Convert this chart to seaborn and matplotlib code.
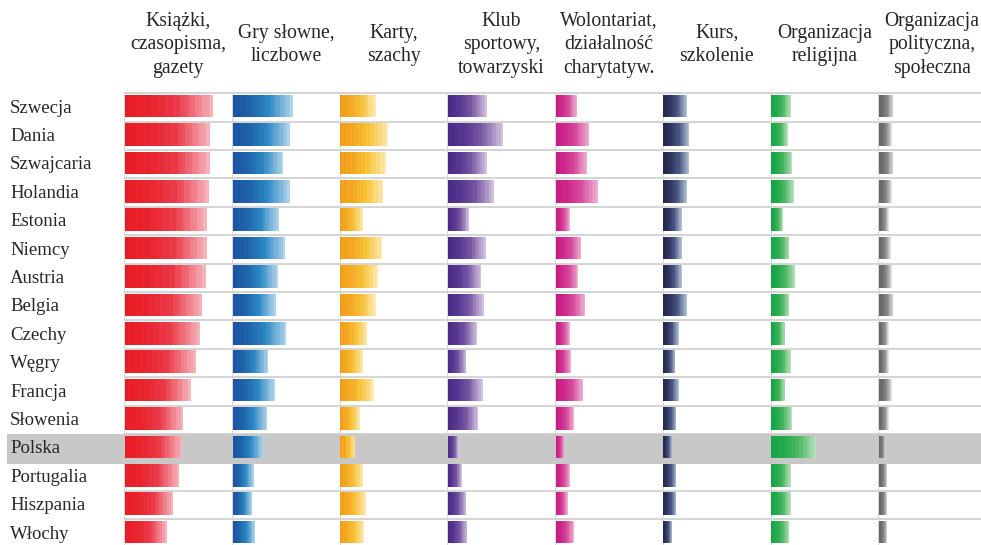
import numpy as np
import pandas as pd
import matplotlib
matplotlib.use("Agg")
import matplotlib.pyplot as plt
import matplotlib.colors as mcolors
from matplotlib.patches import Rectangle
from matplotlib.transforms import blended_transform_factory
import seaborn as sns

# dane (odsetek, skala 0-100 na panel)
kraje = ["Szwecja", "Dania", "Szwajcaria", "Holandia", "Estonia", "Niemcy",
         "Austria", "Belgia", "Czechy", "Węgry", "Francja", "Słowenia",
         "Polska", "Portugalia", "Hiszpania", "Włochy"]
ksiazki = [82, 79, 79, 78, 76, 76, 75, 72, 70, 66, 61, 54, 53, 50, 45, 39]
gry = [56, 53, 47, 53, 43, 49, 42, 40, 50, 33, 39, 32, 28, 19.5, 18, 21]
karty = [33, 44, 42, 40, 21, 39, 35, 33, 25, 21, 31, 18, 14, 21, 23.5, 22]
klub = [36, 51, 36, 43, 19.5, 35, 31, 33, 27, 17, 32, 28, 10, 13, 17, 18]
wolontariat = [19.5, 31, 29, 39, 13, 23.5, 21, 27, 13, 14, 25, 17, 8, 13, 11, 17]
kurs = [22, 24, 24, 22, 17, 17, 17, 22, 14, 11, 14, 12, 8, 12, 12, 8]
religijna = [18, 15.5, 19.5, 21, 11, 17, 22, 17, 13, 18, 13, 19.5, 41.5, 18, 18, 17]
polityczna = [13.5, 12, 13.5, 12, 9, 11, 12, 13.5, 9, 9, 12, 9, 6.5, 8, 8, 8]

naglowki = ["Książki,\nczasopisma,\ngazety", "Gry słowne,\nliczbowe",
            "Karty,\nszachy", "Klub\nsportowy,\ntowarzyski",
            "Wolontariat,\ndziałalność\ncharytatyw.", "Kurs,\nszkolenie",
            "Organizacja\nreligijna", "Organizacja\npolityczna,\nspołeczna"]

df = pd.DataFrame({"kraj": kraje, "ksiazki": ksiazki, "gry": gry, "karty": karty,
                   "klub": klub, "wolontariat": wolontariat, "kurs": kurs,
                   "religijna": religijna, "polityczna": polityczna})
kolumny = ["ksiazki", "gry", "karty", "klub", "wolontariat", "kurs",
           "religijna", "polityczna"]

# kolory gradientu: poczatek, srodek, koniec
barwy = [("#ED1C24", "#EE3A4A", "#F9B9C1"),
         ("#1B55A3", "#2B89C6", "#B6D8EF"),
         ("#F6A01A", "#FBC63A", "#FFEDB5"),
         ("#4A2A8A", "#7A58A5", "#D6C8E4"),
         ("#CB1B86", "#DA4A9E", "#F1B4D6"),
         ("#24274F", "#4A5A85", "#B9C5D9"),
         ("#14A846", "#4BBA62", "#BCE3C0"),
         ("#656565", "#8E8E8E", "#E4E4E4")]

sns.set_style("white")
plt.rcParams['font.family'] = ['Liberation Serif', 'DejaVu Serif']

W, H = 981, 545
fig = plt.figure(figsize=(W / 100, H / 100), dpi=100)

N_WARSTW = 24
SZARY = "#C8C8C8"
LINIA = "#D4D4D4"
idx_pl = kraje.index("Polska")


def gradient(stops, t):
    a, m, b = [np.array(mcolors.to_rgb(s)) for s in stops]
    if t < 0.3:
        return a + (m - a) * (t / 0.3) * 0.3
    if t < 0.6:
        p = a + (m - a) * 0.3
        return p + (m - p) * ((t - 0.3) / 0.3)
    return m + (b - m) * ((t - 0.6) / 0.4)


top_px = 90
axes = []
for i, (kol, tytul, st) in enumerate(zip(kolumny, naglowki, barwy)):
    left_px = 124.3 + 107.7 * i
    ax = fig.add_axes([left_px / W, 0, 107.7 / W, (H - top_px) / H])
    ax.set_facecolor("none")
    for j in range(len(kraje)):
        ax.axhline(j - 0.45, color=LINIA, lw=1.4, zorder=0.5)
    ax.vlines(-0.6, -0.45, 16, color=LINIA, lw=1.3, zorder=0.5)
    ax.axhspan(idx_pl - 0.47, idx_pl + 0.6, color=SZARY, lw=0, zorder=0.8)

    for k in range(N_WARSTW):
        frac = 1 - k / N_WARSTW
        c = gradient(st, frac - 0.5 / N_WARSTW)
        if k % 2:
            c = c * 0.97
        sns.barplot(x=df[kol] * frac, y=df["kraj"], orient="h", color=tuple(np.clip(c, 0, 1)),
                    saturation=1, width=0.8, errorbar=None, linewidth=0, ax=ax, zorder=2)

    ax.set_xlim(-0.6, 99.4)
    ax.set_ylim(15.455, -0.566)
    for s in ax.spines.values():
        s.set_visible(False)
    ax.set_xticks([])
    ax.set_xlabel("")
    ax.set_ylabel("")
    if i == 0:
        ax.set_yticks(range(len(kraje)), kraje)
        ax.tick_params(axis="y", length=0, pad=82.3, labelsize=13.5)
        for lab in ax.get_yticklabels():
            lab.set_ha("left")
    else:
        ax.set_yticks([])
    ax.text(0.5, 1 + 45 / (H - top_px), tytul, transform=ax.transAxes,
            ha="center", va="center", fontsize=14.2, linespacing=1.35, clip_on=False)
    axes.append(ax)

# szare tlo wiersza Polski pod etykieta
tr = blended_transform_factory(fig.transFigure, axes[0].transData)
fig.add_artist(Rectangle((7 / W, idx_pl - 0.47), (124.3 - 7) / W, 1.07,
                         transform=tr, color=SZARY, lw=0, zorder=-1))

fig.savefig("out.png", dpi=100)
